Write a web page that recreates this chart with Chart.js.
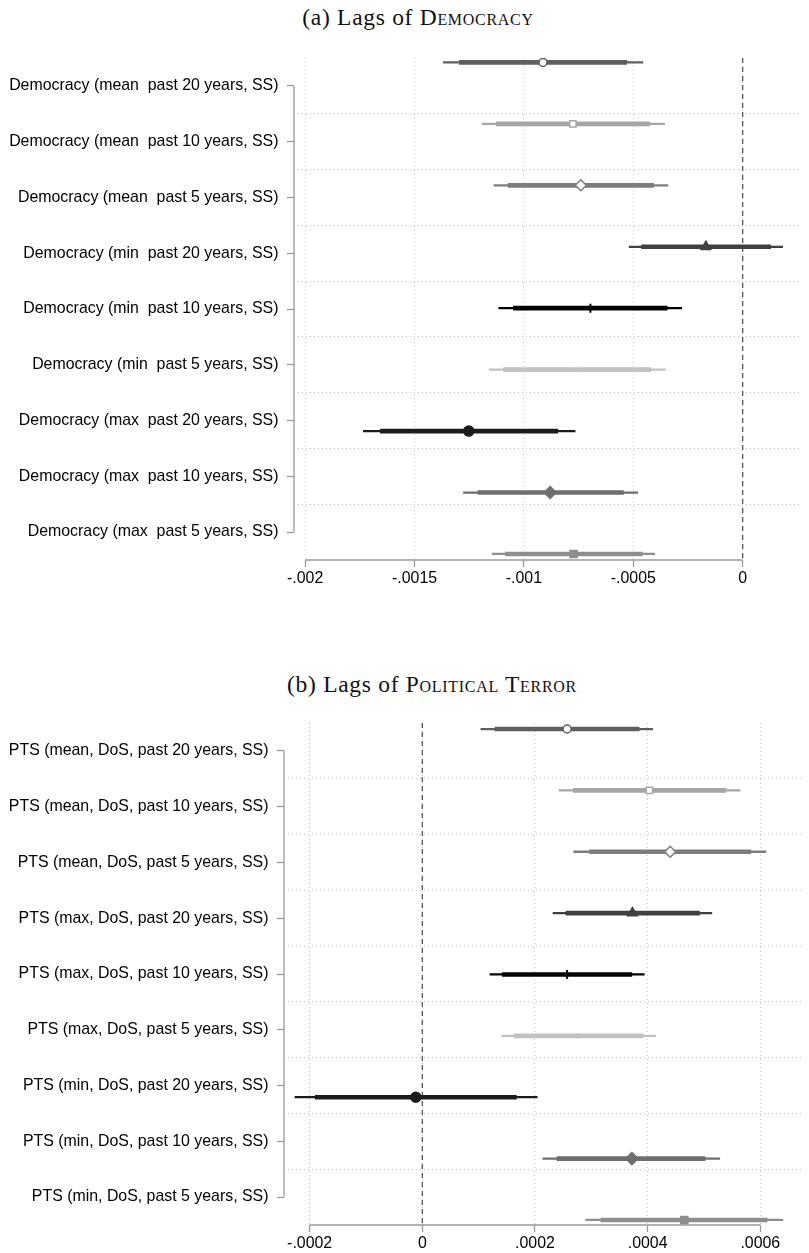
<!DOCTYPE html>
<html>
<head>
<meta charset="utf-8">
<script src="https://cdn.jsdelivr.net/npm/chart.js@4.4.1/dist/chart.umd.min.js"></script>
<style>
  body { margin: 0; background: #fff; width: 809px; height: 1253px; position: relative; overflow: hidden; }
  .ttl { position: absolute; font-family: "Liberation Serif", serif; font-size: 23.5px; color: #111;
         white-space: nowrap; transform: translateX(-50%); letter-spacing: 0.7px; }
  .sc { font-variant: small-caps; }
  canvas { position: absolute; left: 0; }
</style>
</head>
<body>
<div class="ttl" style="left:418px; top:4px;">(a) Lags of <span class="sc">Democracy</span></div>
<canvas id="panel_a" width="809" height="600" style="top:0px"></canvas>
<div class="ttl" style="left:432px; top:671px;">(b) Lags of <span class="sc">Political Terror</span></div>
<canvas id="panel_b" width="809" height="600" style="top:665px"></canvas>
<script>
// ---- panel (a): lags of democracy
const labels_a = [
  "Democracy (mean  past 20 years, SS)",
  "Democracy (mean  past 10 years, SS)",
  "Democracy (mean  past 5 years, SS)",
  "Democracy (min  past 20 years, SS)",
  "Democracy (min  past 10 years, SS)",
  "Democracy (min  past 5 years, SS)",
  "Democracy (max  past 20 years, SS)",
  "Democracy (max  past 10 years, SS)",
  "Democracy (max  past 5 years, SS)"
];
const coef_a   = [-0.000913, -0.000776, -0.000740, -0.000168, -0.000696, -0.000758, -0.001252, -0.000880, -0.000773];
const ci95lo_a = [-0.001368, -0.001191, -0.001137, -0.000519, -0.001115, -0.001158, -0.001734, -0.001276, -0.001145];
const ci95hi_a = [-0.000456, -0.000357, -0.000342,  0.000183, -0.000279, -0.000354, -0.000766, -0.000480, -0.000402];
const ci90lo_a = [-0.001295, -0.001126, -0.001072, -0.000462, -0.001048, -0.001093, -0.001656, -0.001210, -0.001084];
const ci90hi_a = [-0.000530, -0.000425, -0.000407,  0.000128, -0.000345, -0.000420, -0.000845, -0.000545, -0.000459];
const xticks_a = [-0.002, -0.0015, -0.001, -0.0005, 0];
const xticklabels_a = ["-.002", "-.0015", "-.001", "-.0005", "0"];

// ---- panel (b): lags of political terror
const labels_b = [
  "PTS (mean, DoS, past 20 years, SS)",
  "PTS (mean, DoS, past 10 years, SS)",
  "PTS (mean, DoS, past 5 years, SS)",
  "PTS (max, DoS, past 20 years, SS)",
  "PTS (max, DoS, past 10 years, SS)",
  "PTS (max, DoS, past 5 years, SS)",
  "PTS (min, DoS, past 20 years, SS)",
  "PTS (min, DoS, past 10 years, SS)",
  "PTS (min, DoS, past 5 years, SS)"
];
const coef_b   = [0.000257, 0.000403, 0.000440, 0.000373, 0.000257, 0.000277, -0.0000115, 0.000372, 0.000465];
const ci95lo_b = [0.000104, 0.000243, 0.000269, 0.000232, 0.000120, 0.000141, -0.000226, 0.000214, 0.000290];
const ci95hi_b = [0.000409, 0.000564, 0.000610, 0.000514, 0.000394, 0.000414,  0.000204, 0.000528, 0.000640];
const ci90lo_b = [0.000129, 0.000268, 0.000297, 0.000255, 0.000142, 0.000163, -0.000190, 0.000239, 0.000317];
const ci90hi_b = [0.000385, 0.000539, 0.000583, 0.000492, 0.000372, 0.000392,  0.000167, 0.000502, 0.000612];
const xticks_b = [-0.0002, 0, 0.0002, 0.0004, 0.0006];
const xticklabels_b = ["-.0002", "0", ".0002", ".0004", ".0006"];

// marker look per row (same order in both panels)
const rowColors = ["#5e5e5e", "#a6a6a6", "#7c7c7c", "#404040", "#000000", "#c2c2c2", "#1c1c1c", "#6e6e6e", "#8e8e8e"];
const rowStyles = ["circle", "rect", "rectRot", "triangle", "cross", "crossRot", "circle", "rectRot", "rect"];
const rowHollow = [true, true, true, false, false, false, false, false, false];
const rowRadius = [4, 4.5, 5.5, 5.5, 4.5, 3, 5, 6, 5];

const labelFont = { family: "'Liberation Sans', Arial, sans-serif", size: 15.9 };

const axisLines = {
  id: 'axisLines',
  beforeDatasetsDraw(chart, args, opts) {
    const ctx = chart.ctx;
    const x = chart.scales.x, y = chart.scales.y;
    const area = chart.chartArea;
    ctx.save();
    ctx.strokeStyle = '#9a9a9a';
    ctx.lineWidth = 1.3;
    ctx.beginPath();
    ctx.moveTo(area.left, y.getPixelForValue(1));
    ctx.lineTo(area.left, y.getPixelForValue(9));
    ctx.moveTo(x.getPixelForValue(opts.first), area.bottom);
    ctx.lineTo(x.getPixelForValue(opts.last), area.bottom);
    ctx.stroke();
    ctx.restore();
  }
};

function makePanel(id, p) {
  const rows = p.labels.map((_, i) => i + 1);
  const config = {
    type: 'bar',
    data: {
      datasets: [
        {
          type: 'scatter',
          data: rows.map((r, i) => ({ x: p.coef[i], y: r })),
          xAxisID: 'x', yAxisID: 'ym',
          pointStyle: rowStyles,
          pointRadius: rowRadius,
          pointBorderWidth: rowStyles.map(s => (s === 'cross' || s === 'crossRot') ? 2 : 1.5),
          pointBorderColor: rowColors,
          pointBackgroundColor: rowColors.map((c, i) => rowHollow[i] ? '#ffffff' : c)
        },
        {
          type: 'bar', indexAxis: 'y', grouped: false,
          data: rows.map((r, i) => ({ x: [p.lo90[i], p.hi90[i]], y: r })),
          xAxisID: 'x', yAxisID: 'ym',
          barThickness: 4,
          backgroundColor: rowColors
        },
        {
          type: 'bar', indexAxis: 'y', grouped: false,
          data: rows.map((r, i) => ({ x: [p.lo95[i], p.hi95[i]], y: r })),
          xAxisID: 'x', yAxisID: 'ym',
          barThickness: 1.6,
          backgroundColor: rowColors
        },
        {
          type: 'line',
          data: [{ x: 0, y: p.ymMin }, { x: 0, y: p.ymMax }],
          xAxisID: 'x', yAxisID: 'ym',
          borderColor: '#555555', borderWidth: 1.3, borderDash: [5, 4],
          pointRadius: 0
        }
      ]
    },
    options: {
      indexAxis: 'y',
      responsive: false,
      animation: false,
      layout: { padding: { top: p.padTop, right: 0, bottom: 0, left: 0 } },
      plugins: {
        legend: { display: false },
        tooltip: { enabled: false },
        axisLines: { first: p.xticks[0], last: p.xticks[p.xticks.length - 1] }
      },
      scales: {
        x: {
          type: 'linear', position: 'bottom',
          min: p.xMin, max: p.xMax,
          afterBuildTicks: s => { s.ticks = p.xticks.map(v => ({ value: v })); },
          afterFit: s => { s.height = 40; },
          border: { display: false, dash: [1, 3] },
          grid: { color: '#c4c4c4', lineWidth: 1,
                  drawTicks: true, tickLength: 7, tickColor: '#9a9a9a', tickWidth: 1.3, tickBorderDash: [] },
          ticks: { color: '#000', font: labelFont, padding: 2, maxRotation: 0,
                   callback: (v, i) => p.xticklabels[i] }
        },
        y: {
          type: 'linear', position: 'left', reverse: true,
          min: 0.5, max: 9.5, offset: false,
          afterBuildTicks: s => { s.ticks = rows.map(v => ({ value: v })); },
          afterFit: s => { s.width = p.left; },
          border: { display: false },
          grid: { offset: false, drawOnChartArea: false, drawTicks: true, tickLength: 7,
                  tickColor: '#9a9a9a', tickWidth: 1.3 },
          ticks: { color: '#000', font: labelFont, padding: 8.5, autoSkip: false,
                   callback: v => p.labels[v - 1] }
        },
        yg: {
          type: 'linear', position: 'right', reverse: true,
          min: 0.5, max: 9.5, offset: false,
          afterBuildTicks: s => { s.ticks = rows.slice(0, 8).map(v => ({ value: v + 0.5 })); },
          afterFit: s => { s.width = 0; },
          border: { display: false, dash: [1, 3] },
          grid: { offset: false, color: '#c4c4c4', lineWidth: 1, drawTicks: false },
          ticks: { display: false }
        },
        ym: {
          type: 'linear', display: false, reverse: true, offset: false,
          min: p.ymMin, max: p.ymMax,
          grid: { offset: false }
        }
      }
    },
    plugins: [axisLines]
  };
  return new Chart(document.getElementById(id).getContext('2d'), config);
}

const chart_a = makePanel('panel_a', {
  labels: labels_a, coef: coef_a, lo95: ci95lo_a, hi95: ci95hi_a, lo90: ci90lo_a, hi90: ci90hi_a,
  xticks: xticks_a, xticklabels: xticklabels_a,
  xMin: -0.002051, xMax: 0.000269, ymMin: 0.928, ymMax: 9.098,
  left: 294, padTop: 58
});

const chart_b = makePanel('panel_b', {
  labels: labels_b, coef: coef_b, lo95: ci95lo_b, hi95: ci95hi_b, lo90: ci90lo_b, hi90: ci90hi_b,
  xticks: xticks_b, xticklabels: xticklabels_b,
  xMin: -0.0002455, xMax: 0.0006731, ymMin: 0.902, ymMax: 9.082,
  left: 284, padTop: 58
});
</script>
</body>
</html>
